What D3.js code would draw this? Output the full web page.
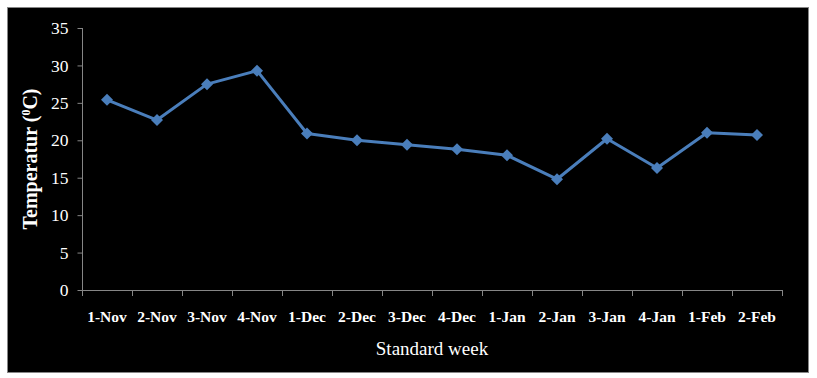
<!DOCTYPE html>
<html><head><meta charset="utf-8">
<script src="https://cdn.jsdelivr.net/npm/d3@7"></script>
<style>html,body{margin:0;padding:0;background:#fff;}</style>
</head><body>
<svg id="chart" width="817" height="378"></svg>
<script>
const categories = ["1-Nov","2-Nov","3-Nov","4-Nov","1-Dec","2-Dec","3-Dec","4-Dec","1-Jan","2-Jan","3-Jan","4-Jan","1-Feb","2-Feb"];
const temperature = [25.4,22.7,27.5,29.3,20.9,20.0,19.4,18.8,18.0,14.8,20.2,16.3,21.0,20.7];
const yTicks = [0,5,10,15,20,25,30,35];

(function(){
const svg = d3.select("#chart");
svg.append("rect").attr("x",7.5).attr("y",7.5).attr("width",801).attr("height",365)
  .attr("fill","#000").attr("stroke","#868686").attr("stroke-width",1);

const pLeft = 82, pRight = 782, pTop = 28, pBottom = 290;
const x = d3.scaleBand().domain(categories).range([pLeft,pRight]);
const y = d3.scaleLinear().domain([0,35]).range([pBottom,pTop]);

const font = "'Liberation Serif','Times New Roman',serif";

const yAxis = svg.append("g").attr("transform",`translate(${pLeft+0.5},0)`)
  .call(d3.axisLeft(y).tickValues(yTicks).tickSize(5).tickPadding(9));
yAxis.selectAll("path,line").attr("stroke","#868686");
yAxis.select(".domain").attr("d",`M0,${pTop}V${pBottom}`);
yAxis.selectAll("text").attr("fill","#fff").attr("font-family",font).attr("font-size",17.5);

const xAxis = svg.append("g").attr("transform",`translate(0,${pBottom+0.5})`)
  .call(d3.axisBottom(x).tickSize(0).tickPadding(20));
xAxis.select(".domain").attr("stroke","#868686").attr("d",`M${pLeft},0H${pRight}`);
xAxis.selectAll("text").attr("fill","#fff").attr("font-family",font).attr("font-size",15.5)
  .attr("font-weight","bold").attr("y",31).attr("dy",0);
const bounds = categories.map(c => x(c)).concat([pRight]);
svg.append("g").selectAll("line").data(bounds).join("line")
  .attr("x1",d=>d+0.5).attr("x2",d=>d+0.5).attr("y1",pBottom).attr("y2",pBottom+6)
  .attr("stroke","#868686");

const cx = d => x(d) + x.bandwidth()/2;
const line = d3.line().x((d,i)=>cx(categories[i])).y(d=>y(d));
svg.append("path").datum(temperature).attr("d",line)
  .attr("fill","none").attr("stroke","#4A7EBB").attr("stroke-width",3).attr("stroke-linejoin","round");

svg.append("g").selectAll("path").data(temperature).join("path")
  .attr("transform",(d,i)=>`translate(${cx(categories[i])},${y(d)})`)
  .attr("d","M0,-6L6,0L0,6L-6,0Z").attr("fill","#4A7EBB");

svg.append("text").attr("x",432).attr("y",355).attr("text-anchor","middle")
  .attr("fill","#fff").attr("font-family",font).attr("font-size",19).text("Standard week");

const yt = svg.append("text").attr("transform","translate(37,159) rotate(-90)")
  .attr("text-anchor","middle").attr("fill","#fff").attr("font-family",font)
  .attr("font-size",20).attr("font-weight","bold");
yt.append("tspan").text("Temperatur (");
yt.append("tspan").attr("font-size",12).attr("dy",-7).text("0");
yt.append("tspan").attr("dy",7).text("C)");
})();
</script>
</body></html>
